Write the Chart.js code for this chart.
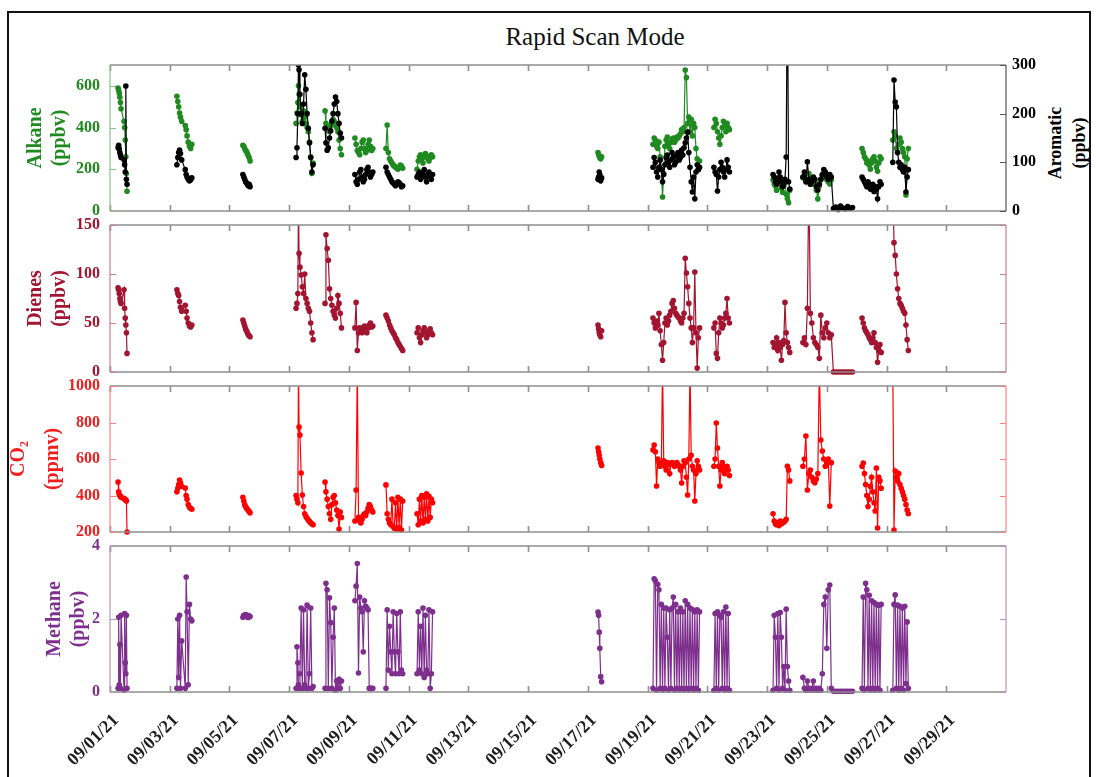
<!DOCTYPE html>
<html>
<head>
<meta charset="utf-8">
<script src="https://cdn.jsdelivr.net/npm/chart.js@4.4.1/dist/chart.umd.min.js"></script>
<style>
  body { margin: 0; background: #fff; width: 1096px; height: 777px; overflow: hidden; position: relative; font-family: "Liberation Serif", "Times New Roman", serif; }
  #frame { position: absolute; left: 7px; top: 11px; width: 1084px; height: 800px; border: 2px solid #111; box-sizing: border-box; }
  #title { position: absolute; left: 0; width: 1190px; top: 21px; line-height: 32px; text-align: center; font-size: 25px; color: #111; }
  #aroTitle { position: absolute; left: 1007px; top: 119px; width: 120px; height: 48px; line-height: 24px; text-align: center;
              font-size: 18px; font-weight: bold; color: #000; transform: rotate(-90deg); }
  canvas { position: absolute; left: 0; }
</style>
</head>
<body>
<div id="frame"></div>
<div id="title">Rapid Scan Mode</div>
<div id="aroTitle">Aromatic<br>(ppbv)</div>
<canvas id="pAlk" width="1096" height="166" style="top:55px"></canvas>
<canvas id="pDie" width="1096" height="167" style="top:215px"></canvas>
<canvas id="pCo2" width="1096" height="166" style="top:376px"></canvas>
<canvas id="pMet" width="1096" height="241" style="top:536px"></canvas>
<script>
// sample times, day of September 2021 (fractional), one line per measurement block
const days = [
  1.27, 1.29, 1.31, 1.33, 1.35, 1.37, 1.47, 1.49, 1.51, 1.53, 1.55, 1.57,
  3.24, 3.27, 3.30, 3.33, 3.36, 3.40, 3.52, 3.55, 3.58, 3.62, 3.66, 3.70, 3.74,
  5.45, 5.48, 5.51, 5.54, 5.57, 5.60, 5.63, 5.66, 5.69,
  7.23, 7.26, 7.29, 7.31, 7.33, 7.36, 7.40, 7.44, 7.48, 7.52, 7.56, 7.60, 7.64, 7.68, 7.72, 7.76, 7.80,
  8.20, 8.23, 8.27, 8.31, 8.35, 8.39, 8.43, 8.47, 8.51, 8.55, 8.59, 8.63, 8.67, 8.71, 8.75,
  9.20, 9.24, 9.28, 9.32, 9.36, 9.40, 9.44, 9.48, 9.52, 9.56, 9.60, 9.64, 9.68, 9.72, 9.76, 9.80,
  10.24, 10.28, 10.32, 10.36, 10.40, 10.44, 10.48, 10.52, 10.56, 10.60, 10.64, 10.68, 10.72, 10.76, 10.80,
  11.28, 11.32, 11.36, 11.40, 11.44, 11.48, 11.52, 11.56, 11.60, 11.64, 11.68, 11.72, 11.76, 11.80,
  17.34, 17.36, 17.38, 17.40, 17.43, 17.46,
  19.18, 19.22, 19.26, 19.30, 19.34, 19.38, 19.42, 19.46, 19.50, 19.54, 19.58, 19.62, 19.66, 19.70, 19.74, 19.78, 19.82, 19.86, 19.90, 19.94,
  19.98, 20.02, 20.06, 20.10, 20.14, 20.18, 20.22, 20.26, 20.30, 20.34, 20.38, 20.42, 20.46, 20.50, 20.54, 20.58, 20.62, 20.66, 20.70, 20.74,
  21.22, 21.26, 21.30, 21.34, 21.38, 21.42, 21.46, 21.50, 21.54, 21.58, 21.62, 21.66, 21.70, 21.74,
  23.20, 23.24, 23.28, 23.32, 23.36, 23.40, 23.44, 23.48, 23.52, 23.56, 23.60, 23.64, 23.68, 23.72, 23.76,
  24.20, 24.25, 24.30, 24.35, 24.40, 24.45, 24.50, 24.55, 24.60, 24.65, 24.70, 24.75, 24.80, 24.85, 24.90, 24.95, 25.00, 25.05, 25.10, 25.15,
  25.22, 25.30, 25.38, 25.46, 25.54, 25.62, 25.70, 25.78, 25.86,
  26.18, 26.22, 26.26, 26.30, 26.34, 26.38, 26.42, 26.46, 26.50, 26.54, 26.58, 26.62, 26.66, 26.70, 26.74, 26.78, 26.82,
  27.21, 27.25, 27.29, 27.33, 27.37, 27.41, 27.45, 27.49, 27.53, 27.57, 27.61, 27.65, 27.69, 27.73
];

// alkane, ppbv
const alkane = [
  590, 580, 565, 545, 520, 490, 430, 400, 340, 260, 180, 95,
  550, 525, 500, 470, 450, 430, 410, 390, 360, 330, 310, 300, 320,
  315, 310, 300, 290, 285, 275, 265, 255, 240,
  420, 470, 520, 600, 560, 500, 460, 430, 480, 450, 420, 400, 380, 330, 260, 180, 230,
  480, 420, 400, 390, 380, 410, 420, 440, 430, 410, 400, 380, 340, 300, 270,
  350, 320, 290, 280, 270, 300, 330, 340, 300, 280, 290, 320, 340, 310, 290, 300,
  300, 412, 280, 250, 240, 230, 220, 215, 210, 205, 200, 210, 220, 215, 205,
  200, 240, 260, 270, 250, 230, 260, 275, 265, 250, 240, 255, 270, 260,
  280, 270, 265, 255, 250, 260,
  320, 350, 340, 310, 300, 330, 260, 200, 67, 180, 310, 340, 355, 320, 300, 330, 345, 350, 330, 340,
  355, 350, 360, 370, 390, 380, 400, 676, 640, 420, 450, 380, 440, 360, 420, 400, 300, 250, 200, 240,
  400, 440, 420, 380, 350, 320, 360, 400, 430, 410, 380, 420, 400, 390,
  150, 130, 120, 100, 140, 160, 130, 110, 90, 120, 140, 80, 60, 40, 100,
  160, 170, 150, 140, 180, 160, 150, 130, 140, 100, 58, 120, 150, 170, 180, 160, 150, 140, 130, 150,
  null, null, null, null, null, null, null, null, null,
  300, 280, 260, 250, 230, 240, 220, 200, 230, 250, 260, 240, 210, 190, 230, 260, 250,
  340, 380, 360, 300, 280, 320, 350, 330, 300, 280, 260, 77, 250, 300
];

// aromatic, ppbv (right axis)
const aromatic = [
  130, 135, 128, 120, 115, 110, 105, 95, 80, 257, 65, 55,
  95, 110, 120, 125, 118, 105, 85, 75, 70, 65, 62, 64, 68,
  75, 70, 65, 60, 58, 55, 52, 55, 50,
  110, 130, 200, 300, 290, 240, 200, 180, 220, 280, 250, 200, 170, 140, 110, 80, 95,
  170, 140, 125, 130, 150, 165, 185, 200, 220, 234, 225, 200, 180, 160, 150,
  75, 60, 55, 65, 80, 85, 70, 60, 65, 75, 85, 90, 80, 70, 75, 80,
  90, 80, 75, 70, 65, 60, 58, 55, 52, 55, 60, 58, 55, 50, 52,
  70, 75, 80, 65, 70, 75, 85, 70, 60, 75, 80, 70, 65, 75,
  65, 70, 80, 75, 62, 68,
  90, 110, 100, 80, 70, 90, 105, 85, 60, 75, 95, 110, 115, 100, 90, 105, 120, 110, 95, 100,
  115, 120, 105, 110, 125, 115, 130, 140, 150, 162, 120, 90, 60, 39, 70, 25, 80, 95, 85, 90,
  90, 80, 75, 41, 70, 85, 100, 90, 80, 70, 85, 105, 90, 80,
  75, 70, 60, 55, 65, 80, 70, 60, 50, 55, 65, 111, 500, 60, 45,
  70, 80, 60, 101, 65, 55, 60, 70, 65, 50, 43, 55, 65, 75, 85, 80, 70, 65, 75, 70,
  5, 8, 3, 10, 6, 4, 9, 5, 7,
  70, 65, 60, 55, 50, 60, 55, 45, 50, 55, 40, 50, 45, 25, 50, 60, 55,
  100, 269, 224, 214, 120, 100, 90, 95, 85, 80, 90, 39, 70, 85
];

// dienes, ppbv
const dienes = [
  86, 84, 80, 75, 72, 70, 84, 65, 55, 48, 40, 19,
  84, 80, 78, 72, 66, 62, 68, 62, 55, 50, 47, 46, 48,
  53, 50, 47, 44, 42, 40, 38, 37, 36,
  65, 70, 80, 175, 121, 107, 99, 87, 80, 100, 75, 70, 65, 62, 50, 40, 33,
  70, 140, 126, 114, 85, 75, 68, 62, 58, 55, 65, 78, 70, 60, 45,
  45, 71, 22, 40, 45, 42, 40, 45, 47, 42, 40, 45, 48, 50, 46, 47,
  58, 55, 52, 48, 45, 42, 40, 38, 35, 33, 30, 28, 26, 24, 22,
  40, 45, 35, 30, 38, 42, 45, 40, 35, 38, 42, 44, 40, 38,
  48, 44, 40, 38, 36, 42,
  55, 50, 45, 52, 48, 60, 42, 28, 12, 30, 50, 55, 48, 52, 58, 62, 70, 73, 65, 60,
  58, 56, 55, 52, 50, 55, 60, 116, 101, 87, 70, 55, 45, 30, 45, 102, 40, 4, 35, 45,
  45, 50, 19, 14, 40, 55, 50, 45, 48, 55, 60, 75, 55, 50,
  30, 25, 28, 35, 22, 30, 25, 12, 28, 32, 71, 40, 30, 25, 20,
  30, 35, 28, 65, 200, 60, 50, 35, 30, 28, 25, 14, 58, 40, 35, 45, 50, 40, 35, 38,
  0, 0, 0, 0, 0, 0, 0, 0, 0,
  55, 50, 45, 42, 40, 38, 35, 33, 30, 35, 40, 30, 25, 10, 22, 28, 20,
  200, 132, 119, 100, 85, 75, 70, 68, 65, 62, 60, 48, 33, 22
];

// CO2, ppmv
const co2 = [
  474, 420, 405, 400, 395, 390, 385, 380, 378, 375, 370, 200,
  420, 440, 460, 485, 470, 450, 441, 400, 380, 350, 335, 330, 325,
  390, 370, 350, 340, 330, 325, 318, 312, 305,
  400, 380, 360, 1100, 775, 731, 523, 403, 340, 300, 285, 275, 265, 258, 250, 245, 240,
  474, 420, 380, 340, 300, 270, 350, 390, 400, 360, 320, 290, 216, 310, 280,
  260, 430, 1100, 280, 260, 250, 270, 290, 300, 290, 310, 330, 350, 340, 320, 310,
  458, 300, 270, 250, 240, 380, 230, 220, 360, 215, 390, 225, 380, 211, 370,
  300, 240, 380, 260, 400, 250, 390, 270, 410, 260, 395, 280, 380, 360,
  660, 640, 620, 600, 580, 565,
  650, 677, 640, 452, 600, 580, 560, 570, 1100, 590, 560, 540, 580, 570, 520, 575, 580, 570, 560, 575,
  580, 570, 560, 540, 468, 560, 590, 580, 500, 403, 600, 1100, 620, 560, 540, 370, 520, 590, 560, 540,
  560, 600, 797, 660, 560, 452, 540, 580, 560, 520, 550, 560, 540, 510,
  300, 260, 245, 240, 250, 235, 260, 245, 250, 255, 260, 270, 560, 540, 480,
  560, 600, 726, 430, 520, 540, 500, 480, 470, 490, 520, 1100, 704, 644, 600, 560, 580, 600, 342, 580,
  null, null, null, null, null, null, null, null, null,
  560, 578, 520, 460, 400, 340, 380, 450, 500, 420, 360, 315, 550, 222, 500, 480, 440,
  1100, 211, 534, 500, 480, 520, 460, 440, 420, 400, 380, 350, 320, 300
];

// methane, ppbv
const methane = [
  0.1, 2.05, 0.2, 1.3, 0.1, 2.1, 0.05, 2.15, 0.8, 0.5, 2.1, 0.1,
  0.1, 2.0, 0.4, 2.1, 0.1, 1.4, 0.1, 3.15, 2.2, 0.2, 2.4, 2.0, 1.95,
  2.05, 2.1, 2.08, 2.12, 2.06, 2.1, 2.04, 2.09, 2.07,
  0.1, 1.24, 0.8, 0.2, 0.1, 0.5, 2.3, 0.1, 2.25, 0.2, 0.1, 2.38, 0.1, 0.5, 2.3, 0.1, 0.15,
  0.1, 2.98, 2.8, 0.1, 2.58, 1.9, 0.1, 1.5, 2.3, 0.05, 0.3, 0.1, 0.35, 0.1, 0.3,
  2.5, 2.9, 3.52, 0.52, 2.6, 2.3, 2.2, 1.1, 2.5, 2.35, 2.3, 2.25, 0.1, 0.1, 0.1, 0.1,
  0.1, 2.25, 0.6, 1.8, 1.1, 0.5, 2.2, 1.1, 0.5, 2.15, 1.1, 0.5, 2.2, 0.6, 0.5,
  0.5, 2.2, 0.6, 1.8, 0.5, 2.3, 0.4, 2.1, 0.6, 0.5, 2.25, 0.1, 0.5, 2.2,
  2.19, 2.1, 1.64, 1.2, 0.42, 0.28,
  0.1, 3.1, 3.05, 0.05, 2.95, 2.8, 0.1, 2.4, 0.05, 2.3, 0.1, 2.3, 1.5, 0.05, 2.25, 0.1, 2.3, 2.6, 0.05, 2.4,
  0.1, 2.2, 0.05, 2.3, 0.1, 2.2, 0.05, 2.5, 0.1, 2.4, 0.05, 2.3, 0.1, 2.26, 0.05, 2.2, 0.1, 2.25, 0.05, 2.2,
  0.05, 2.15, 0.1, 2.2, 0.05, 2.1, 2.05, 0.1, 2.2, 0.05, 2.33, 0.1, 2.15, 0.05,
  0.05, 2.1, 1.5, 0.1, 2.15, 0.05, 2.18, 1.5, 0.1, 0.7, 0.05, 2.27, 0.7, 0.3, 0.05,
  0.4, 0.1, 0.05, 0.3, 0.1, 0.05, 0.1, 0.3, 0.05, 0.1, 0.05, 0.1, 0.05, 0.5, 2.4, 2.6, 1.2, 2.8, 2.93, 0.1,
  0.02, 0.02, 0.02, 0.02, 0.02, 0.02, 0.02, 0.02, 0.02,
  0.1, 2.6, 0.05, 2.98, 2.8, 0.1, 2.65, 0.05, 2.5, 0.1, 2.45, 0.05, 2.4, 0.1, 2.38, 0.05, 2.4,
  0.05, 2.4, 2.66, 0.1, 2.38, 0.05, 2.35, 0.1, 2.3, 0.05, 2.35, 0.23, 1.92, 0.1
];

// axis ticks
const tickDays = [1, 3, 5, 7, 9, 11, 13, 15, 17, 19, 21, 23, 25, 27, 29];
const tickLabels = ['09/01/21', '09/03/21', '09/05/21', '09/07/21', '09/09/21', '09/11/21', '09/13/21', '09/15/21',
                    '09/17/21', '09/19/21', '09/21/21', '09/23/21', '09/25/21', '09/27/21', '09/29/21'];
const alkTicks = [0, 200, 400, 600];
const aroTicks = [0, 100, 200, 300];
const dieTicks = [0, 50, 100, 150];
const co2Ticks = [200, 400, 600, 800, 1000];
const metTicks = [0, 2, 4];

const SERIF = '"Liberation Serif", "Times New Roman", serif';
const GREEN = '#1f8a1f';
const DIENE = '#a2142f';
const RED = '#ff0000';
const PURPLE = '#7e2f8e';
const AXIS_GRAY = '#8f8f8f';

// a break is inserted wherever the instrument was idle
function series(vals) {
  const pts = [];
  for (let i = 0; i < days.length; i++) {
    if (i > 0 && days[i] - days[i - 1] > 0.3) pts.push({x: (days[i] + days[i - 1]) / 2, y: null});
    pts.push({x: days[i], y: vals[i]});
  }
  return pts;
}

function lineSet(label, vals, color, axis) {
  return {
    label: label,
    data: series(vals),
    yAxisID: axis,
    borderColor: color,
    backgroundColor: color,
    pointBackgroundColor: color,
    pointBorderWidth: 0,
    pointRadius: 2.8,
    borderWidth: 1.2,
    spanGaps: false,
    clip: {left: 4, right: 4, top: 0, bottom: 4}
  };
}

const fixedTicks = vals => scale => { scale.ticks = vals.map(v => ({value: v})); };

// keep the plot box fixed: no extra room reserved for the end labels
const fitY = width => s => { s.width = width; s.paddingTop = 0; s.paddingBottom = 0; };

function leftAxis(min, max, vals, color, title, titlePad, lineHeight) {
  return {
    position: 'left', min: min, max: max,
    afterBuildTicks: fixedTicks(vals),
    afterFit: fitY(110),
    grid: {display: false, drawTicks: false},
    border: {display: false},
    ticks: {color: color, padding: 10, font: {family: SERIF, size: 16, weight: 'bold'}, callback: v => String(v)},
    title: {display: true, text: title, color: color,
            font: {family: SERIF, size: 20, weight: 'bold', lineHeight: lineHeight},
            padding: {top: titlePad, bottom: 0}}
  };
}

function hiddenX() {
  return {type: 'linear', min: 1, max: 31, display: false};
}

// panel box: gray top/bottom with inward day ticks, coloured sides with inward value ticks
const panelFrame = {
  id: 'panelFrame',
  afterDatasetsDraw(chart, args, o) {
    const {ctx, chartArea} = chart;
    const {left, right, top, bottom} = chartArea;
    const x = chart.scales.x;
    ctx.save();
    ctx.strokeStyle = AXIS_GRAY;
    ctx.lineWidth = 1.6;
    ctx.beginPath();
    ctx.moveTo(left, top); ctx.lineTo(right, top);
    ctx.moveTo(left, bottom); ctx.lineTo(right, bottom);
    tickDays.forEach(d => {
      const px = Math.round(x.getPixelForValue(d)) + 0.5;
      ctx.moveTo(px, bottom); ctx.lineTo(px, bottom - 6);
      ctx.moveTo(px, top); ctx.lineTo(px, top + 6);
    });
    ctx.stroke();

    const side = (xEdge, dir, color, scale, vals) => {
      ctx.strokeStyle = color;
      ctx.lineWidth = 1.2;
      ctx.beginPath();
      ctx.moveTo(xEdge, top); ctx.lineTo(xEdge, bottom);
      vals.forEach(v => {
        const py = Math.round(scale.getPixelForValue(v)) + 0.5;
        ctx.moveTo(xEdge, py); ctx.lineTo(xEdge + dir * 6, py);
      });
      ctx.stroke();
    };
    side(left, 1, o.leftColor, chart.scales[o.leftAxis], o.leftTicks);
    side(right, -1, o.rightColor, chart.scales[o.rightAxis], o.rightTicks);
    ctx.restore();
  }
};

function baseOptions(padding, scales, frame) {
  return {
    responsive: false,
    animation: false,
    events: [],
    layout: {padding: padding},
    scales: scales,
    plugins: {legend: {display: false}, tooltip: {enabled: false}, panelFrame: frame}
  };
}

// alkane + aromatic
new Chart(document.getElementById('pAlk'), {
  type: 'line',
  data: {datasets: [
    lineSet('Aromatic', aromatic, '#000000', 'y2'),
    lineSet('Alkane', alkane, GREEN, 'y')
  ]},
  options: baseOptions({top: 10, bottom: 10, left: 0, right: 0}, {
    x: hiddenX(),
    y: leftAxis(0, 700, alkTicks, GREEN, ['Alkane', '(ppbv)'], 24, 1.18),
    y2: {
      position: 'right', min: 0, max: 300,
      afterBuildTicks: fixedTicks(aroTicks),
      afterFit: fitY(90),
      grid: {display: false, drawTicks: false},
      border: {display: false},
      ticks: {color: '#000', padding: 6, font: {family: SERIF, size: 16, weight: 'bold'}}
    }
  }, {leftColor: '#86c386', leftAxis: 'y', leftTicks: alkTicks, rightColor: '#555', rightAxis: 'y2', rightTicks: aroTicks}),
  plugins: [panelFrame]
});

// dienes
new Chart(document.getElementById('pDie'), {
  type: 'line',
  data: {datasets: [lineSet('Dienes', dienes, DIENE, 'y')]},
  options: baseOptions({top: 10, bottom: 10, left: 0, right: 90}, {
    x: hiddenX(),
    y: leftAxis(0, 150, dieTicks, DIENE, ['Dienes', '(ppbv)'], 24, 1.18)
  }, {leftColor: '#cc7f8d', leftAxis: 'y', leftTicks: dieTicks, rightColor: '#cc7f8d', rightAxis: 'y', rightTicks: dieTicks}),
  plugins: [panelFrame]
});

// CO2
new Chart(document.getElementById('pCo2'), {
  type: 'line',
  data: {datasets: [lineSet('CO2', co2, RED, 'y')]},
  options: baseOptions({top: 10, bottom: 10, left: 0, right: 90}, {
    x: hiddenX(),
    y: leftAxis(200, 1000, co2Ticks, '#f01e1e', ['CO\u2082', '(ppmv)'], 2, 1.7)
  }, {leftColor: '#ff8080', leftAxis: 'y', leftTicks: co2Ticks, rightColor: '#ff8080', rightAxis: 'y', rightTicks: co2Ticks}),
  plugins: [panelFrame]
});

// methane, carries the date axis
new Chart(document.getElementById('pMet'), {
  type: 'line',
  data: {datasets: [lineSet('Methane', methane, PURPLE, 'y')]},
  options: baseOptions({top: 10, bottom: 0, left: 0, right: 90}, {
    x: {
      type: 'linear', min: 1, max: 31,
      afterBuildTicks: fixedTicks(tickDays),
      afterFit: s => { s.height = 85; s.paddingLeft = 0; s.paddingRight = 0; },
      grid: {display: false, drawTicks: false},
      border: {display: false},
      ticks: {autoSkip: false, minRotation: 45, maxRotation: 45, padding: 18, labelOffset: 6,
              color: '#1e1e1e', font: {family: SERIF, size: 18, weight: 'bold'},
              callback: (v, i) => tickLabels[i]}
    },
    y: leftAxis(0, 4, metTicks, PURPLE, ['Methane', '(ppbv)'], 43, 1.18)
  }, {leftColor: '#b894c0', leftAxis: 'y', leftTicks: metTicks, rightColor: '#b894c0', rightAxis: 'y', rightTicks: metTicks}),
  plugins: [panelFrame]
});
</script>
</body>
</html>
